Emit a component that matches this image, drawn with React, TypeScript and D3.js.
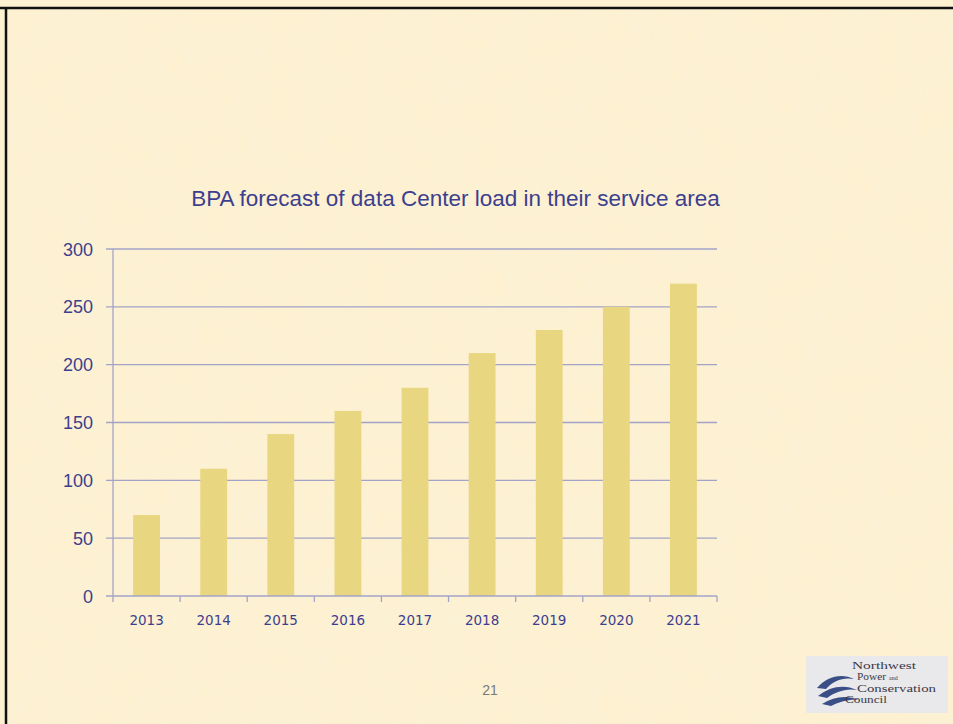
import React from "react";
import * as d3 from "d3";

const years = ["2013", "2014", "2015", "2016", "2017", "2018", "2019", "2020", "2021"];
const loads = [70, 110, 140, 160, 180, 210, 230, 250, 270];
const yTicks = [0, 50, 100, 150, 200, 250, 300];
const titleText = "BPA forecast of data Center load in their service area";
const pageNumber = "21";
const logoLines = ["Northwest", "Power", "Conservation", "Council"];

const W = 953;
const H = 724;
const plot = { left: 113, right: 717, top: 249, bottom: 596 };

export default function App() {
  const x = d3
    .scaleBand<string>()
    .domain(years)
    .range([plot.left, plot.right])
    .paddingInner(0.6)
    .paddingOuter(0.3);
  const band = d3.scaleBand<string>().domain(years).range([plot.left, plot.right]);
  const y = d3.scaleLinear().domain([0, 300]).range([plot.bottom, plot.top]);

  const textColor = "#3d3f8e";
  const gridColor = "#a3a3c8";
  const barColor = "#e9d680";

  const boundaries = years.map((yr) => band(yr) as number).concat([plot.right]);

  const logoX = [852, 857, 857, 845];
  const logoW = [64, 29, 79, 42];
  const logoY = [669, 680, 692, 703];

  return (
    <svg
      width={W}
      height={H}
      style={{ position: "absolute", left: 0, top: 0, display: "block" }}
    >
      <defs>
        <filter id="paper" x="0" y="0" width="100%" height="100%">
          <feTurbulence type="fractalNoise" baseFrequency="0.03" numOctaves="3" seed="4" result="n" />
          <feColorMatrix
            in="n"
            type="matrix"
            values="0 0 0 0 0.95  0 0 0 0 0.88  0 0 0 0 0.68  0 0 0 1.6 -0.6"
          />
        </filter>
      </defs>
      <rect x={0} y={0} width={W} height={H} fill="#fdf1d2" />
      <rect x={6} y={9} width={W - 6} height={H - 9} filter="url(#paper)" opacity={0.6} />
      {/* slide border */}
      <line x1={0} x2={W} y1={8} y2={8} stroke="#111" strokeWidth={2.5} />
      <line x1={6} x2={6} y1={7} y2={H} stroke="#111" strokeWidth={2.5} />

      {/* title */}
      <text
        x={455.5}
        y={206}
        textAnchor="middle"
        fontFamily="Liberation Sans, Arial, sans-serif"
        fontSize={22.5}
        fill={textColor}
      >
        {titleText}
      </text>

      {/* gridlines */}
      {yTicks.filter((t) => t > 0).map((t) => (
        <line
          key={t}
          x1={plot.left - 7}
          x2={plot.right}
          y1={y(t)}
          y2={y(t)}
          stroke={gridColor}
          strokeWidth={1.3}
        />
      ))}

      {/* bars */}
      {loads.map((v, i) => (
        <rect
          key={years[i]}
          x={x(years[i])}
          y={y(v)}
          width={x.bandwidth()}
          height={y(0) - y(v)}
          fill={barColor}
        />
      ))}

      {/* axes */}
      <line x1={plot.left} x2={plot.left} y1={plot.top} y2={plot.bottom} stroke={gridColor} strokeWidth={1.3} />
      <line x1={plot.left - 7} x2={plot.right} y1={plot.bottom} y2={plot.bottom} stroke={gridColor} strokeWidth={1.3} />
      {boundaries.map((b, i) => (
        <line key={i} x1={b} x2={b} y1={plot.bottom} y2={plot.bottom + 6} stroke={gridColor} strokeWidth={1.3} />
      ))}

      {/* y labels */}
      {yTicks.map((t) => (
        <text
          key={t}
          x={93}
          y={y(t) + 6.5}
          textAnchor="end"
          fontFamily="Liberation Sans, Arial, sans-serif"
          fontSize={18}
          fill={textColor}
        >
          {t}
        </text>
      ))}

      {/* x labels */}
      {years.map((yr) => (
        <text
          key={yr}
          x={(band(yr) as number) + band.bandwidth() / 2}
          y={625}
          textAnchor="middle"
          fontFamily="DejaVu Sans, Verdana, sans-serif"
          fontSize={13.5}
          fill={textColor}
        >
          {yr}
        </text>
      ))}

      {/* page number */}
      <text
        x={490}
        y={695}
        textAnchor="middle"
        fontFamily="Liberation Sans, Arial, sans-serif"
        fontSize={14}
        fill="#7a7a7a"
      >
        {pageNumber}
      </text>

      {/* logo */}
      <g>
        <rect x={806} y={656} width={142} height={57} fill="#e9e8ea" />
        <path d="M817,688 C827,676 842,673 854,679 C843,677 833,681 826,689 Z" fill="#3a4f86" />
        <path d="M818,696 C830,686 845,684 857,690 C846,688 835,692 827,698 Z" fill="#3a4f86" />
        <path d="M822,704 C834,696 848,695 859,700 C849,699 839,702 831,706 Z" fill="#3a4f86" />
        {logoLines.map((l, i) => (
          <text
            key={l}
            x={logoX[i]}
            y={logoY[i]}
            fontFamily="Liberation Serif, Times New Roman, serif"
            fontSize={10}
            textLength={logoW[i]}
            lengthAdjust="spacingAndGlyphs"
            fill="#3a3a48"
          >
            {l}
          </text>
        ))}
        <text
          x={889}
          y={680}
          fontFamily="Liberation Serif, Times New Roman, serif"
          fontSize={6}
          fill="#3a3a48"
        >
          and
        </text>
      </g>
    </svg>
  );
}
